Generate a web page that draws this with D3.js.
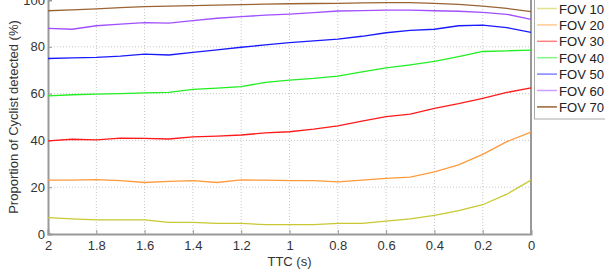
<!DOCTYPE html>
<html>
<head>
<meta charset="utf-8">
<script src="https://cdn.jsdelivr.net/npm/d3@7"></script>
<style>
  body { margin: 0; background: #fff; }
  svg { display: block; font-family: "Liberation Sans", Arial, sans-serif; }
</style>
</head>
<body>
<svg id="chart" width="605" height="271"></svg>
<script>
// TTC values, 2 s down to 0 s
let ttc = d3.range(20, -1, -1).map(d => d / 10);

let fovNames = ["FOV 10", "FOV 20", "FOV 30", "FOV 40", "FOV 50", "FOV 60", "FOV 70"];
let fovColors = ["#c8c832", "#ff9a3c", "#ff1a1a", "#22ee22", "#1a1aff", "#a050ff", "#9a6433"];

let fov10 = [7, 6.5, 6, 6, 6, 5, 5, 4.5, 4.5, 4, 4, 4, 4.5, 4.5, 5.5, 6.5, 8, 10, 12.5, 17, 23];
let fov20 = [23, 23, 23.2, 22.8, 22, 22.5, 22.8, 22, 23.1, 23, 22.8, 22.8, 22.3, 23, 23.8, 24.3, 26.5, 29.5, 34, 39.5, 43.5];
let fov30 = [39.8, 40.5, 40.2, 41, 40.9, 40.6, 41.5, 41.8, 42.3, 43.2, 43.7, 44.8, 46.2, 48.2, 50.2, 51.2, 53.7, 55.7, 58, 60.5, 62.4];
let fov40 = [59, 59.5, 59.8, 60, 60.3, 60.5, 61.8, 62.3, 63, 64.8, 65.8, 66.5, 67.5, 69.3, 71, 72.3, 73.8, 75.8, 78, 78.3, 78.6];
let fov50 = [75, 75.3, 75.5, 76, 76.9, 76.5, 77.6, 78.7, 79.8, 80.8, 81.8, 82.5, 83.3, 84.5, 86, 87, 87.5, 89, 89.3, 88.2, 86.2];
let fov60 = [87.9, 87.5, 89, 89.7, 90.3, 90.1, 91.2, 92.2, 92.9, 93.5, 94, 94.6, 95.3, 95.5, 95.7, 95.7, 95.4, 95.2, 94.7, 93.9, 91.7];
let fov70 = [95.4, 95.8, 96.2, 96.7, 97.2, 97.4, 97.6, 97.8, 98, 98.2, 98.4, 98.5, 98.6, 98.8, 98.9, 98.9, 98.6, 98.1, 97.4, 96.4, 95];

let allSeries = [fov10, fov20, fov30, fov40, fov50, fov60, fov70];

let xTicks = [2, 1.8, 1.6, 1.4, 1.2, 1, 0.8, 0.6, 0.4, 0.2, 0];
let yTicks = [0, 20, 40, 60, 80, 100];

let svg = d3.select("#chart");

let plotLeft = 48, plotRight = 531, plotTop = 0, plotBottom = 234;

let xScale = d3.scaleLinear().domain([2, 0]).range([plotLeft, plotRight]);
let yScale = d3.scaleLinear().domain([0, 100]).range([plotBottom, plotTop]);

// grid
let grid = svg.append("g");
grid.selectAll(".vgrid")
    .data(xTicks.slice(1, -1))
    .enter()
    .append("line")
    .attr("x1", d => xScale(d)).attr("x2", d => xScale(d))
    .attr("y1", plotTop).attr("y2", plotBottom)
    .attr("stroke", "#c8c8c8")
    .attr("stroke-dasharray", "1,2");
grid.selectAll(".hgrid")
    .data(yTicks.slice(1, -1))
    .enter()
    .append("line")
    .attr("x1", plotLeft).attr("x2", plotRight)
    .attr("y1", d => yScale(d)).attr("y2", d => yScale(d))
    .attr("stroke", "#c8c8c8")
    .attr("stroke-dasharray", "1,2");

// axes (matlab style inner ticks)
let xAxis = d3.axisBottom(xScale).tickValues(xTicks).tickSize(-4).tickPadding(7).tickFormat(d3.format("~g"));
let yAxis = d3.axisLeft(yScale).tickValues(yTicks).tickSize(-4).tickPadding(3).tickFormat(d3.format("~g"));

let gx = svg.append("g").attr("transform", `translate(0,${plotBottom})`).call(xAxis);
let gy = svg.append("g").attr("transform", `translate(${plotLeft},0)`).call(yAxis);

[gx, gy].forEach(g => {
    g.select(".domain").attr("stroke", "#999").attr("stroke-width", 2);
    g.selectAll(".tick line").attr("stroke", "#999");
    g.selectAll("text").attr("fill", "#333").style("font-size", "13px").style("font-family", "Liberation Sans, Arial, sans-serif");
});

// right frame
svg.append("line")
    .attr("x1", plotRight).attr("x2", plotRight)
    .attr("y1", plotTop).attr("y2", plotBottom)
    .attr("stroke", "#999")
    .attr("stroke-width", 2);

// lines
let line = d3.line()
    .x((d, i) => xScale(ttc[i]))
    .y(d => yScale(d));

svg.selectAll(".series")
    .data(allSeries)
    .enter()
    .append("path")
    .attr("d", d => line(d))
    .attr("fill", "none")
    .attr("stroke", (d, i) => fovColors[i])
    .attr("stroke-width", 1.3);

// axis labels
svg.append("text")
    .attr("x", (plotLeft + plotRight) / 2)
    .attr("y", 266)
    .attr("text-anchor", "middle")
    .attr("fill", "#333")
    .style("font-size", "13px")
    .text("TTC (s)");

svg.append("text")
    .attr("transform", `translate(18,${(plotTop + plotBottom) / 2}) rotate(-90)`)
    .attr("text-anchor", "middle")
    .attr("fill", "#333")
    .style("font-size", "13px")
    .text("Proportion of Cyclist detected (%)");

// legend
let legend = svg.append("g");
legend.append("rect")
    .attr("x", 534.5).attr("y", -5)
    .attr("width", 90).attr("height", 124)
    .attr("fill", "#fff")
    .attr("stroke", "#aaa");

let items = legend.selectAll(".item")
    .data(fovNames)
    .enter()
    .append("g")
    .attr("transform", (d, i) => `translate(0,${8.5 + i * 16.4})`);

items.append("line")
    .attr("x1", 537).attr("x2", 557)
    .attr("y1", 0).attr("y2", 0)
    .attr("stroke", (d, i) => fovColors[i])
    .attr("stroke-opacity", (d, i) => i === 6 ? 1 : 0.55)
    .attr("stroke-width", 1.5);

items.append("text")
    .attr("x", 559)
    .attr("y", 5)
    .attr("fill", "#222")
    .style("font-size", "13px")
    .attr("textLength", 45)
    .attr("lengthAdjust", "spacingAndGlyphs")
    .text(d => d);
</script>
</body>
</html>
